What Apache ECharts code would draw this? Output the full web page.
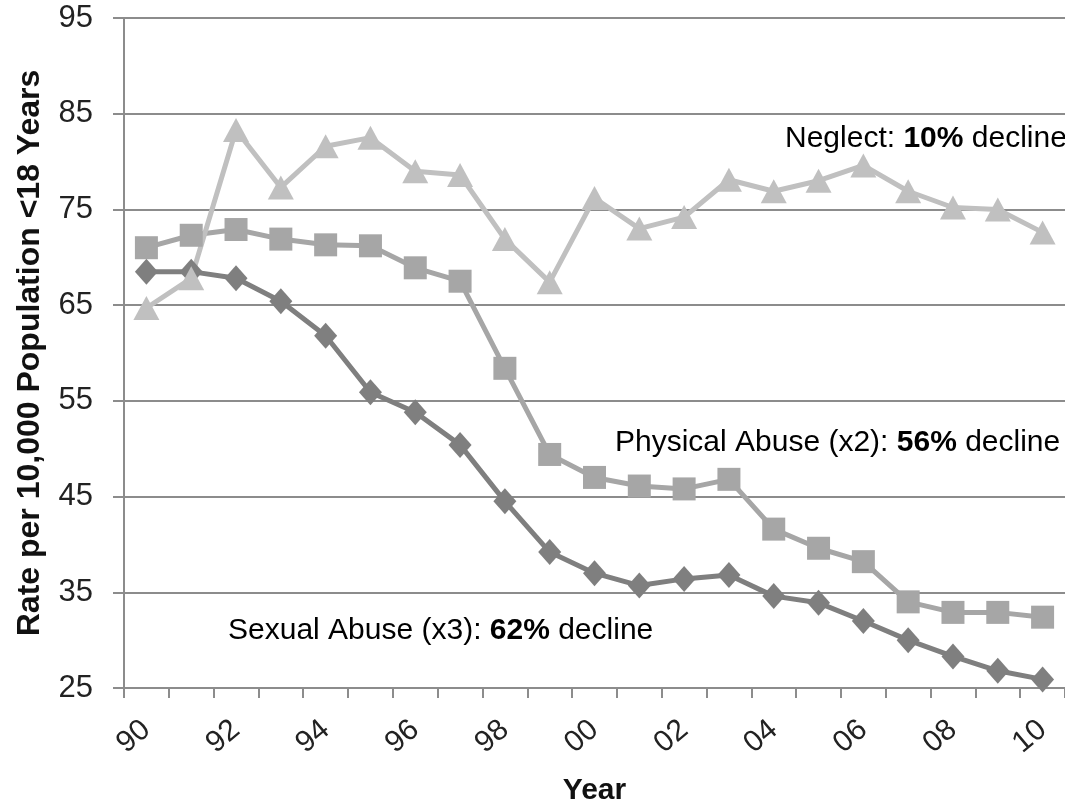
<!DOCTYPE html>
<html>
<head>
<meta charset="utf-8">
<script src="https://cdn.jsdelivr.net/npm/echarts@6/dist/echarts.min.js"></script>
<style>
  html, body { margin: 0; padding: 0; background: #fff; }
  #chart { width: 1065px; height: 811px; }
</style>
</head>
<body>
<div id="chart"></div>
<script>
// years 1990-2010, shown as two digits
var years = ['90', '91', '92', '93', '94', '95', '96', '97', '98', '99', '00',
  '01', '02', '03', '04', '05', '06', '07', '08', '09', '10'];

// rate per 10,000 population <18 years
var neglect = [64.7, 67.8, 83.3, 77.3, 81.6, 82.5, 79.0, 78.6, 71.9, 67.4, 76.2,
  73.0, 74.2, 78.1, 76.9, 78.0, 79.6, 76.9, 75.2, 75.0, 72.6];
var physical = [71.0, 72.3, 72.9, 71.9, 71.3, 71.2, 68.9, 67.5, 58.4, 49.4, 47.0,
  46.1, 45.8, 46.8, 41.6, 39.6, 38.2, 34.0, 32.9, 32.9, 32.4];
var sexual = [68.5, 68.5, 67.8, 65.4, 61.8, 55.9, 53.8, 50.4, 44.5, 39.2, 37.0,
  35.7, 36.4, 36.8, 34.6, 33.9, 32.0, 30.0, 28.3, 26.8, 25.9];

var yTicks = { min: 25, max: 95, step: 10 };

var FONT = '"Liberation Sans", Arial, sans-serif';
var GRID_COLOR = '#8c8c8c';

var myChart = echarts.init(document.getElementById('chart'));

function note(parts) {
  // parts: [plain, bold, plain]
  return '{n|' + parts[0] + '}{b|' + parts[1] + '}{n|' + parts[2] + '}';
}
var noteRich = {
  n: { fontFamily: FONT, fontSize: 30, color: '#262626' },
  b: { fontFamily: FONT, fontSize: 30, fontWeight: 'bold', color: '#1a1a1a' }
};

var option = {
  backgroundColor: '#fff',
  animation: false,
  // plot runs past the right edge of the picture (cropped original)
  grid: { left: 124, width: 951, top: 18, bottom: 116 },
  xAxis: {
    type: 'category',
    data: years,
    boundaryGap: true,
    name: 'Year',
    nameLocation: 'middle',
    nameGap: 88,
    nameTextStyle: { fontFamily: FONT, fontSize: 30, fontWeight: 'bold', color: '#111' },
    axisLine: { lineStyle: { color: GRID_COLOR, width: 2 } },
    axisTick: { show: true, interval: 0, length: 10, lineStyle: { color: GRID_COLOR, width: 2 } },
    axisLabel: {
      interval: 1,
      rotate: 40,
      margin: 38,
      fontFamily: FONT,
      fontSize: 30,
      color: '#222'
    },
    splitLine: { show: false }
  },
  yAxis: {
    type: 'value',
    min: yTicks.min,
    max: yTicks.max,
    interval: yTicks.step,
    name: 'Rate per 10,000 Population <18 Years',
    nameLocation: 'middle',
    nameGap: 78,
    nameTextStyle: { fontFamily: FONT, fontSize: 32, fontWeight: 'bold', color: '#111' },
    axisLine: { show: true, lineStyle: { color: GRID_COLOR, width: 2 } },
    axisTick: { show: true, length: 11, lineStyle: { color: GRID_COLOR, width: 2 } },
    axisLabel: { margin: 31, fontFamily: FONT, fontSize: 31, color: '#222' },
    splitLine: { show: true, lineStyle: { color: GRID_COLOR, width: 2 } }
  },
  series: [
    {
      name: 'Sexual Abuse (x3)',
      type: 'line',
      data: sexual,
      symbol: 'diamond',
      symbolSize: [23, 26],
      lineStyle: { color: '#7f7f7f', width: 5 },
      itemStyle: { color: '#7f7f7f' }
    },
    {
      name: 'Physical Abuse (x2)',
      type: 'line',
      data: physical,
      symbol: 'rect',
      symbolSize: 23,
      lineStyle: { color: '#a6a6a6', width: 5 },
      itemStyle: { color: '#a6a6a6' }
    },
    {
      name: 'Neglect',
      type: 'line',
      data: neglect,
      symbol: 'triangle',
      symbolSize: [26, 24],
      lineStyle: { color: '#c0c0c0', width: 5 },
      itemStyle: { color: '#c0c0c0' }
    }
  ],
  graphic: [
    {
      type: 'text', left: 785, top: 124,
      style: { text: note(['Neglect: ', '10%', ' decline']), rich: noteRich }
    },
    {
      type: 'text', left: 615, top: 428,
      style: { text: note(['Physical Abuse (x2): ', '56%', ' decline']), rich: noteRich }
    },
    {
      type: 'text', left: 228, top: 616,
      style: { text: note(['Sexual Abuse (x3): ', '62%', ' decline']), rich: noteRich }
    }
  ]
};

myChart.setOption(option);
</script>
</body>
</html>
